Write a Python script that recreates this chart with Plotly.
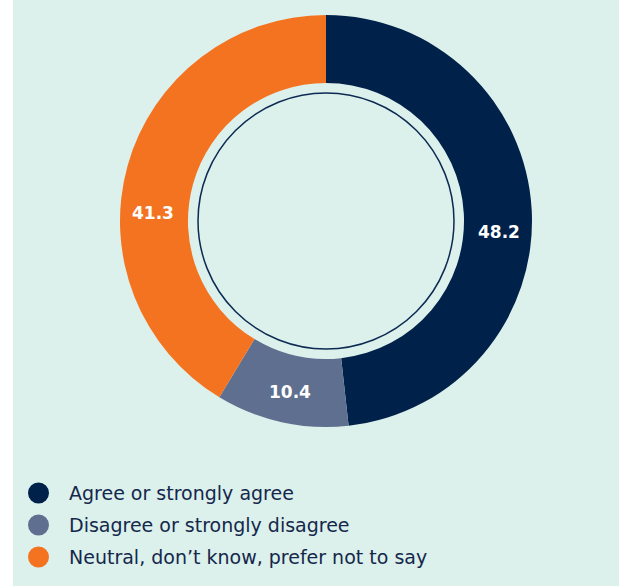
import plotly.graph_objects as go

# Survey response shares (%)
categories = ["Agree or strongly agree",
              "Disagree or strongly disagree",
              "Neutral, don\u2019t know, prefer not to say"]
values = [48.2, 10.4, 41.3]
colors = ["#00214a", "#5f6f8f", "#f47321"]

W, H = 619, 586
BG = "#dcf0ec"
TEXT = "#14284b"

# donut geometry in pixels
cx, cy, R = 326, 221, 206
ring_r = 128

def px(x):
    return x / W

def py(y):
    return (H - y) / H

fig = go.Figure()
fig.add_trace(go.Pie(
    labels=categories,
    values=values,
    marker=dict(colors=colors, line=dict(width=0)),
    hole=0.67,
    sort=False,
    direction="clockwise",
    rotation=0,
    textinfo="none",
    hoverinfo="label+value",
    showlegend=False,
    domain=dict(x=[px(cx - R), px(cx + R)], y=[py(cy + R), py(cy - R)]),
))

shapes = [
    # mint panel
    dict(type="rect", xref="paper", yref="paper", x0=px(13), x1=1, y0=0, y1=1,
         fillcolor=BG, line=dict(width=0), layer="below"),
    # thin ring inside the hole
    dict(type="circle", xref="paper", yref="paper",
         x0=px(cx - ring_r), x1=px(cx + ring_r),
         y0=py(cy + ring_r), y1=py(cy - ring_r),
         line=dict(color="#0d2a52", width=1.5), fillcolor="rgba(0,0,0,0)"),
]

annotations = []
# value labels on the slices
label_pos = [(499, 232), (290, 392), (153, 213)]
for v, (lx, ly) in zip(values, label_pos):
    annotations.append(dict(
        x=px(lx), y=py(ly), xref="paper", yref="paper", showarrow=False,
        text=f"<b>{v:.1f}</b>", xanchor="center", yanchor="middle",
        font=dict(family="DejaVu Sans", size=17, color="white")))

# legend rows
leg_y0, leg_dy = 493, 32
for i, (cat, col) in enumerate(zip(categories, colors)):
    yy = leg_y0 + i * leg_dy
    shapes.append(dict(type="circle", xref="paper", yref="paper",
                       x0=px(28), x1=px(49), y0=py(yy + 10.5), y1=py(yy - 10.5),
                       fillcolor=col, line=dict(width=0)))
    annotations.append(dict(
        x=px(67), y=py(yy), xref="paper", yref="paper", showarrow=False,
        text=cat, xanchor="left", yanchor="middle",
        font=dict(family="DejaVu Sans", size=19, color=TEXT)))

fig.update_layout(
    width=W, height=H,
    margin=dict(l=0, r=0, t=0, b=0),
    paper_bgcolor="white",
    plot_bgcolor="white",
    shapes=shapes,
    annotations=annotations,
)

fig.write_html("out.html")
